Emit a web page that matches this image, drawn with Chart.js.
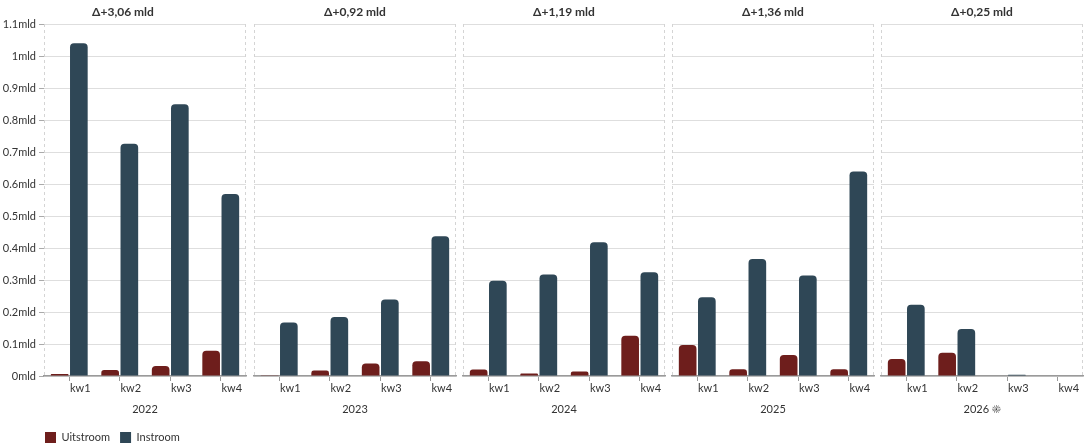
<!DOCTYPE html>
<html>
<head>
<meta charset="utf-8">
<script src="https://cdn.jsdelivr.net/npm/chart.js@4"></script>
<style>
    html, body { margin: 0; padding: 0; background: #fff; }
    #wrap { position: relative; width: 1088px; height: 446px; overflow: hidden; }
    #wrap canvas { position: absolute; top: 0; }
</style>
</head>
<body>
<div id="wrap">
    <canvas id="panel0"></canvas>
    <canvas id="panel1"></canvas>
    <canvas id="panel2"></canvas>
    <canvas id="panel3"></canvas>
    <canvas id="panel4"></canvas>
</div>
<script>
// data (mld)
const quarters = ['kw1', 'kw2', 'kw3', 'kw4'];
const years = ['2022', '2023', '2024', '2025', '2026 ☀'];
const deltaTitles = ['Δ+3,06 mld', 'Δ+0,92 mld', 'Δ+1,19 mld', 'Δ+1,36 mld', 'Δ+0,25 mld'];
const yTickLabels = ['0mld', '0.1mld', '0.2mld', '0.3mld', '0.4mld', '0.5mld', '0.6mld', '0.7mld', '0.8mld', '0.9mld', '1mld', '1.1mld'];

const uit2022 = [0.006, 0.019, 0.031, 0.079];
const in2022 = [1.040, 0.726, 0.849, 0.569];
const uit2023 = [0.002, 0.017, 0.039, 0.046];
const in2023 = [0.167, 0.184, 0.239, 0.437];
const uit2024 = [0.020, 0.008, 0.014, 0.126];
const in2024 = [0.298, 0.317, 0.418, 0.324];
const uit2025 = [0.097, 0.021, 0.066, 0.021];
const in2025 = [0.246, 0.366, 0.314, 0.639];
const uit2026 = [0.053, 0.073, 0, 0];
const in2026 = [0.223, 0.147, 0.004, 0];

const uitSeries = [uit2022, uit2023, uit2024, uit2025, uit2026];
const inSeries = [in2022, in2023, in2024, in2025, in2026];

const panelLefts = [0, 253, 462, 671, 880];
const FONT = 'Lato, "Noto Sans", sans-serif';
const charts = [];

// dashed frame left/right of each panel
const panelFrame = {
    id: 'panelFrame',
    beforeDatasetsDraw(chart) {
        const a = chart.chartArea;
        const c = chart.ctx;
        c.save();
        c.strokeStyle = '#d4d4d4';
        c.lineWidth = 1;
        c.setLineDash([3, 3]);
        c.beginPath();
        c.moveTo(Math.round(a.left) + 0.5, a.top);
        c.lineTo(Math.round(a.left) + 0.5, a.bottom);
        c.moveTo(Math.round(a.right) - 0.5, a.top);
        c.lineTo(Math.round(a.right) - 0.5, a.bottom);
        c.stroke();
        c.restore();
    }
};

// legend sits under the plot, lined up with the y axis
const legendShift = {
    id: 'legendShift',
    afterLayout(chart) {
        if (chart.legend && chart.options.plugins.legend.display) {
            chart.legend.left += 35;
        }
    }
};

function drawPanel(i, height) {
    const canvas = document.getElementById('panel' + i);
    const first = i === 0;
    canvas.width = first ? 247 : 204;
    canvas.height = height;
    canvas.style.left = panelLefts[i] + 'px';
    const ctx = canvas.getContext('2d');

    charts[i] = new Chart(ctx, {
        type: 'bar',
        data: {
            labels: quarters,
            datasets: [{
                label: 'Uitstroom',
                data: uitSeries[i],
                backgroundColor: '#6e1e1c',
                borderWidth: 0,
                borderRadius: 4,
                borderSkipped: 'start'
            }, {
                label: 'Instroom',
                data: inSeries[i],
                backgroundColor: '#2f4756',
                borderWidth: 0,
                borderRadius: 4,
                borderSkipped: 'start'
            }]
        },
        options: {
            responsive: false,
            animation: false,
            categoryPercentage: 0.76,
            barPercentage: 0.92,
            layout: {
                padding: { left: first ? 0 : 1, right: 1, top: 0, bottom: 0 }
            },
            plugins: {
                title: {
                    display: true,
                    text: deltaTitles[i],
                    color: '#333',
                    font: { family: FONT, size: 12, weight: 'bold' },
                    padding: { top: 5, bottom: 4.6 }
                },
                legend: {
                    display: first,
                    position: 'bottom',
                    align: 'start',
                    labels: {
                        boxWidth: 11,
                        boxHeight: 11,
                        padding: 10,
                        color: '#333',
                        font: { family: FONT, size: 11 }
                    }
                },
                tooltip: { enabled: false }
            },
            scales: {
                x: {
                    grid: {
                        offset: false,
                        drawOnChartArea: false,
                        drawTicks: true,
                        tickLength: 5,
                        tickColor: '#999'
                    },
                    border: { display: true, color: '#9a9a9a', width: 1.5 },
                    ticks: {
                        labelOffset: 11,
                        padding: 1,
                        maxRotation: 0,
                        autoSkip: false,
                        color: '#333',
                        font: { family: FONT, size: 11 }
                    },
                    title: {
                        display: true,
                        text: years[i],
                        color: '#333',
                        font: { family: FONT, size: 11 },
                        padding: { top: 4, bottom: 6 }
                    },
                    afterFit: (scale) => { scale.height = 46; }
                },
                y: {
                    min: 0,
                    max: 1.1,
                    ticks: {
                        display: first,
                        stepSize: 0.1,
                        padding: 3,
                        color: '#333',
                        font: { family: FONT, size: 11 },
                        callback: (value, index) => yTickLabels[index]
                    },
                    grid: {
                        color: '#dedede',
                        drawTicks: first,
                        tickLength: 5,
                        tickColor: '#aaa'
                    },
                    border: { display: false },
                    afterFit: (scale) => { scale.width = first ? 44 : 0; }
                }
            }
        },
        plugins: [panelFrame, legendShift]
    });
}

// first panel carries the y axis and the legend
drawPanel(0, 453);
const plotBottom = charts[0].chartArea.bottom;
for (let i = 1; i < 5; i++) {
    drawPanel(i, Math.round(plotBottom + 46));
}
</script>
</body>
</html>
